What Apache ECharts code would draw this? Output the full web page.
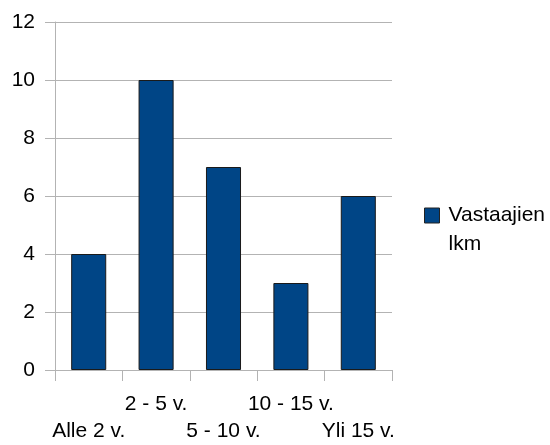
<!DOCTYPE html>
<html><head><meta charset="utf-8">
<script src="https://cdn.jsdelivr.net/npm/echarts@6/dist/echarts.min.js"></script>
<style>html,body{margin:0;padding:0;background:#fff}#c{width:550px;height:445px}</style>
</head><body><div id="c"></div>
<script>
const categories = ['Alle 2 v.', '2 - 5 v.', '5 - 10 v.', '10 - 15 v.', 'Yli 15 v.'];
const values = [4, 10, 7, 3, 6];
const seriesName = 'Vastaajien lkm';
const yTicks = { min: 0, max: 12, interval: 2 };

const chart = echarts.init(document.getElementById('c'), null, { renderer: 'canvas' });
const gray = '#b3b3b3';
const font = 'Liberation Sans, Arial, sans-serif';
chart.setOption({
  animation: false,
  textStyle: { fontFamily: font },
  grid: { left: 55, right: 158, top: 22, bottom: 70 },
  legend: {
    left: 419, top: 161,
    itemWidth: 15, itemHeight: 15, itemGap: 0,
    icon: 'rect',
    data: [{ name: seriesName, itemStyle: { borderColor: '#222', borderWidth: 1 } }],
    formatter: () => '\nVastaajien\nlkm',
    textStyle: { fontSize: 21, color: '#000', lineHeight: 29, fontFamily: font, padding: [12, 0, 0, 4] }
  },
  xAxis: {
    type: 'category', data: categories,
    axisLine: { lineStyle: { color: gray } },
    axisTick: { show: true, length: 11, lineStyle: { color: gray } },
    axisLabel: {
      interval: 0, margin: 21, fontSize: 21, color: '#000', lineHeight: 27,
      formatter: (v, i) => (i % 2 === 0 ? '\n' + v : v)
    }
  },
  yAxis: {
    type: 'value', min: yTicks.min, max: yTicks.max, interval: yTicks.interval,
    axisLine: { show: true, lineStyle: { color: gray } },
    axisTick: { show: true, length: 10, lineStyle: { color: gray } },
    splitLine: { lineStyle: { color: gray } },
    axisLabel: { margin: 20, fontSize: 21, color: '#000' }
  },
  series: [{
    name: seriesName, type: 'bar', data: values, barWidth: '52%',
    itemStyle: { color: '#004586', borderColor: '#1a1a1a', borderWidth: 1 }
  }]
});
</script></body></html>
